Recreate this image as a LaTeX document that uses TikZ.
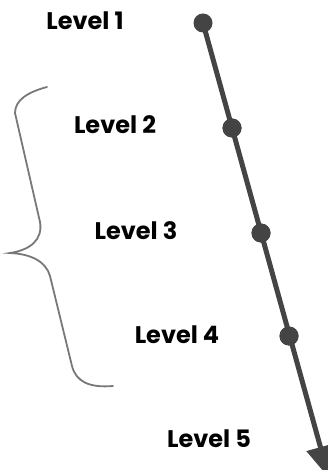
\documentclass[tikz,border=0pt]{standalone}
\usepackage{fontspec}
\setmainfont{Poppins}
\usepackage{tikz}
\usetikzlibrary{arrows.meta,positioning}
\usepackage{xcolor}
\definecolor{lvdark}{RGB}{68,68,68}
\definecolor{lvgray}{RGB}{120,120,120}
\tikzstyle{level} = [anchor=base, inner sep=0pt, font=\fontsize{24}{28}\selectfont\bfseries, text=black]
\tikzstyle{dot} = [circle, fill=lvdark, inner sep=0pt, minimum size=19pt]
\tikzstyle{axis} = [line width=5pt, color=lvdark, -{Triangle[length=32pt,width=28pt]}]
\tikzstyle{brace} = [line width=1.8pt, color=lvgray, line cap=round]

\begin{document}
\begin{tikzpicture}[x=1pt, y=-1pt]
\useasboundingbox (0,0) rectangle (328,470);
% levels along the axis
\node[dot] (d1) at (203,23) {};
\node[dot] (d2) at (232,128) {};
\node[dot] (d3) at (261,233) {};
\node[dot] (d4) at (289,336) {};
\coordinate (tip) at (329,478);
\draw[axis] (d1.center) -- (tip);
\node[dot] at (d2) {};
\node[dot] at (d3) {};
\node[dot] at (d4) {};
% labels
\node[level] (l1) at (85,30) {Level 1};
\node[level] (l2) at (115,134) {Level 2};
\node[level] (l3) at (136,239) {Level 3};
\node[level] (l4) at (177,343) {Level 4};
\node[level] (l5) at (209,447) {Level 5};
% curly brace
\draw[brace] (47,87) .. controls (28,92) and (15,100) .. (15,113)
  -- (40,222) .. controls (43,240) and (30,250) .. (10,253)
  .. controls (32,254) and (46,262) .. (50,276)
  -- (72,366) .. controls (76,382) and (90,388) .. (113,386);
\end{tikzpicture}
\end{document}
